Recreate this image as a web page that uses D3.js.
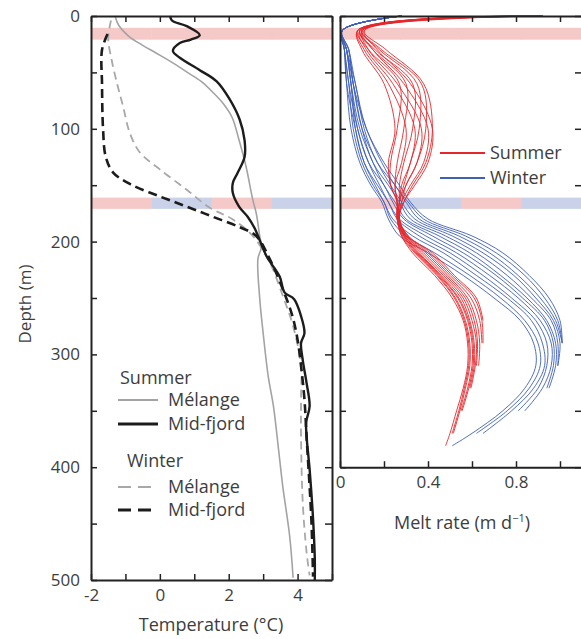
<!DOCTYPE html>
<html>
<head>
<meta charset="utf-8">
<script src="https://cdn.jsdelivr.net/npm/d3@7"></script>
<style>
body { margin: 0; background: #fff; }
text { font-family: "Open Sans", sans-serif; fill: #3d3d3d; }
.axis .domain { stroke: #222; stroke-width: 2; }
.axis line { stroke: #222; stroke-width: 1.5; }
.axis text { font-size: 17px; fill: #3d3d3d; }
</style>
</head>
<body>
<script>
// temperature profiles [temp degC, depth m]
var summerMelange = [[-1.3,0],[-1.2,8],[-0.9,18],[-0.5,26],[-0.1,33],[0.4,42],[0.8,50],[1.2,58],[1.55,68],[1.85,78],[2.1,90],[2.3,110],[2.5,133],[2.7,163],[2.8,175],[2.9,195],[2.95,205],[2.85,215],[2.9,250],[3.0,281],[3.15,320],[3.3,346],[3.45,385],[3.57,417],[3.77,461],[3.87,498]];
var summerMidfjord = [[0.3,0],[0.35,4],[0.78,9],[1.16,17],[0.9,21],[0.58,24],[0.38,31],[0.58,37],[1.16,48],[1.65,58],[2.03,74],[2.32,92],[2.46,110],[2.46,125],[2.26,139],[2.12,148],[2.12,157],[2.3,169],[2.55,178],[2.75,188],[3.1,213],[3.48,231],[3.62,245],[3.9,251],[4.1,266],[4.2,281],[4.1,290],[4.15,305],[4.26,325],[4.35,346],[4.25,360],[4.26,372],[4.35,402],[4.45,446],[4.5,481],[4.5,500]];
var winterMelange = [[-1.42,4],[-1.5,20],[-1.4,39],[-1.25,59],[-1.07,80],[-0.87,104],[-0.58,121],[0,136],[0.78,154],[1.45,170],[2.1,180],[2.7,195],[3.2,219],[3.57,248],[3.87,275],[4.1,310],[4.1,340],[4.1,372],[4.15,431],[4.26,475],[4.35,496]];
var winterMidfjord = [[-1.52,16],[-1.68,30],[-1.68,60],[-1.65,100],[-1.57,125],[-1.35,139],[-0.8,150],[0,160],[0.78,169],[1.54,178],[2.3,187],[2.8,195],[3.2,216],[3.57,242],[3.85,266],[4.0,287],[4.1,310],[4.2,340],[4.26,372],[4.4,446],[4.45,497]];

// melt rate ensembles (m/d) on shared depths
var meltDepths = [0, 13, 30, 60, 100, 130, 150, 165, 180, 195, 210, 230, 250, 270, 290, 310, 330, 350, 370, 381];
var summerMelt = [
  [0.92,0.08,0.10,0.20,0.25,0.22,0.23,0.26, .26,.28,.33,.43,.51,.56,.58,.58,.56,.53,.50,.48],
  [0.92,0.08,0.13,0.27,0.26,0.23,0.23,0.26, .26,.28,.34,.44,.52,.565,.585,.585,.565,.54,.51],
  [0.92,0.08,0.11,0.22,0.30,0.28,0.25,0.26, .26,.285,.345,.445,.525,.57,.59,.59,.57,.545,.515],
  [0.92,0.09,0.15,0.30,0.29,0.26,0.25,0.26, .26,.29,.35,.45,.535,.58,.60,.60,.58,.55],
  [0.92,0.09,0.12,0.24,0.34,0.32,0.28,0.27, .265,.29,.355,.455,.54,.585,.605,.605,.585,.555],
  [0.92,0.09,0.16,0.33,0.33,0.29,0.27,0.27, .265,.295,.36,.46,.55,.59,.61,.61,.59],
  [0.92,0.10,0.13,0.26,0.37,0.35,0.30,0.27, .265,.295,.37,.47,.56,.60,.62,.615,.595],
  [0.92,0.10,0.18,0.35,0.36,0.32,0.29,0.27, .27,.30,.38,.48,.57,.61,.625,.62],
  [0.92,0.10,0.15,0.29,0.40,0.38,0.32,0.28, .27,.30,.39,.49,.58,.62,.635,.63],
  [0.92,0.10,0.19,0.37,0.39,0.35,0.30,0.28, .27,.305,.40,.50,.595,.635,.645],
  [0.92,0.11,0.17,0.32,0.42,0.40,0.34,0.29, .27,.31,.41,.51,.61,.645,.65],
  [0.92,0.11,0.21,0.38,0.42,0.39,0.33,0.29, .27,.31,.42,.52,.62,.65]
];
var winterMelt = [
  [.28,.01,.02,.03,.05,.09,.14,.19, .22,.27,.40,.56,.70,.82,.88,.89,.84,.74,.60,.51],
  [.28,.01,.02,.04,.06,.10,.15,.20, .23,.30,.43,.59,.73,.84,.90,.91,.86,.76,.62],
  [.28,.01,.02,.03,.07,.11,.16,.20, .24,.33,.47,.62,.76,.87,.92,.93,.88,.78,.65],
  [.28,.01,.03,.05,.07,.11,.17,.22, .26,.36,.50,.65,.78,.89,.94,.94,.90,.81],
  [.28,.01,.02,.04,.08,.13,.18,.22, .27,.39,.53,.68,.81,.91,.96,.96,.92,.84],
  [.28,.01,.03,.05,.08,.13,.20,.24, .29,.42,.56,.71,.83,.93,.97,.97,.94],
  [.28,.01,.03,.05,.09,.15,.20,.25, .30,.45,.59,.73,.85,.94,.98,.98,.95],
  [.28,.01,.03,.06,.10,.15,.22,.27, .32,.48,.62,.76,.87,.96,.99,.99],
  [.28,.01,.04,.06,.10,.17,.23,.28, .34,.51,.65,.79,.89,.97,1.00,.99],
  [.28,.01,.03,.07,.11,.17,.25,.30, .36,.54,.68,.81,.91,.98,1.01],
  [.28,.01,.04,.06,.12,.19,.25,.31, .38,.57,.71,.84,.93,.99,1.01],
  [.28,.01,.04,.07,.12,.20,.27,.32, .40,.60,.74,.86,.95,1.00,1.01]
];

// shaded depth bands, and which season each quarter belongs to
var bandDepths = [[10.5, 21], [161, 171]];
var bandSeasons = [["S","S","S","S"], ["S","W","S","W"]];

var tempTicks = [-2,-1,0,1,2,3,4,5];
var tempLabels = [-2,0,2,4];
var meltTicks = [0,0.2,0.4,0.6,0.8,1.0];
var meltLabels = [0,0.4,0.8];
var depthTicks = [0,50,100,150,200,250,300,350,400,450,500];
var depthLabels = [0,100,200,300,400,500];

var w = 581, h = 639;
var svg = d3.select("body").append("svg")
  .attr("width", w)
  .attr("height", h);

var xT = d3.scaleLinear().domain([-2, 5]).range([91, 332]);
var yT = d3.scaleLinear().domain([0, 500]).range([16, 580]);
var xM = d3.scaleLinear().domain([0, 1.1]).range([340, 582]);
var yM = d3.scaleLinear().domain([0, 400]).range([16, 16 + 400 * 564 / 500]);

var bandColor = {S: "#f6c9c9", W: "#c9d2e9"};

// bands
function drawBands(xs, ys) {
  var r = xs.range(), q = (r[1] - r[0]) / 4;
  bandDepths.forEach(function(b, bi) {
    bandSeasons[bi].forEach(function(s, i) {
      svg.append("rect")
        .attr("x", r[0] + i * q)
        .attr("y", ys(b[0]))
        .attr("width", q + 0.5)
        .attr("height", ys(b[1]) - ys(b[0]))
        .attr("fill", bandColor[s]);
    });
  });
}
drawBands(xT, yT);
drawBands(xM, yM);

// temperature lines
var tLine = d3.line()
  .x(function(d) { return xT(d[0]); })
  .y(function(d) { return yT(d[1]); })
  .curve(d3.curveCatmullRom.alpha(0.5));

var tempSeries = [
  {data: summerMelange, color: "#a3a3a3", width: 1.6, dash: null},
  {data: winterMelange, color: "#a8a8a8", width: 1.8, dash: "8,5"},
  {data: winterMidfjord, color: "#1c1c1c", width: 2.6, dash: "9,5"},
  {data: summerMidfjord, color: "#1c1c1c", width: 2.4, dash: null}
];
tempSeries.forEach(function(s) {
  svg.append("path")
    .attr("d", tLine(s.data))
    .attr("fill", "none")
    .attr("stroke", s.color)
    .attr("stroke-width", s.width)
    .attr("stroke-dasharray", s.dash);
});

// melt lines
var mLine = d3.line()
  .x(function(d) { return xM(d[0]); })
  .y(function(d) { return yM(d[1]); })
  .curve(d3.curveCatmullRom.alpha(0.5));

function drawMelt(set, color) {
  svg.selectAll(null)
    .data(set)
    .enter()
    .append("path")
    .attr("d", function(vals) {
      return mLine(vals.map(function(v, i) { return [v, meltDepths[i]]; }));
    })
    .attr("fill", "none")
    .attr("stroke", color)
    .attr("stroke-width", 1)
    .attr("stroke-opacity", 0.9);
}
drawMelt(winterMelt, "#3f5fb8");
drawMelt(summerMelt, "#e5272b");

// axes / frames
function fmt(d) { return String(d); }
function drawAxes(xs, ys, xt, xl, yt, yl) {
  var xr = xs.range(), yr = ys.range();
  svg.append("g").attr("class", "axis")
    .attr("transform", "translate(0," + yr[1] + ")")
    .call(d3.axisBottom(xs).tickValues(xt).tickSize(-6).tickSizeOuter(0).tickPadding(9)
      .tickFormat(function(d) { return xl.indexOf(d) >= 0 ? fmt(d) : ""; }));
  svg.append("g").attr("class", "axis")
    .attr("transform", "translate(0," + yr[0] + ")")
    .call(d3.axisTop(xs).tickValues(xt).tickSize(-6).tickSizeOuter(0).tickFormat(""));
  svg.append("g").attr("class", "axis")
    .attr("transform", "translate(" + xr[0] + ",0)")
    .call(d3.axisLeft(ys).tickValues(yt).tickSize(-6).tickSizeOuter(0).tickPadding(11)
      .tickFormat(function(d) { return yl.indexOf(d) >= 0 ? fmt(d) : ""; }));
  svg.append("g").attr("class", "axis")
    .attr("transform", "translate(" + xr[1] + ",0)")
    .call(d3.axisRight(ys).tickValues(yt).tickSize(-7).tickSizeOuter(0).tickFormat(""));
}
drawAxes(xT, yT, tempTicks, tempLabels, depthTicks, depthLabels);
drawAxes(xM, yM, meltTicks, meltLabels, depthTicks.filter(function(d) { return d <= 400; }), []);

// axis titles
svg.append("text")
  .attr("x", 211).attr("y", 631)
  .attr("text-anchor", "middle")
  .attr("font-size", "18px")
  .text("Temperature (\u00b0C)");

svg.append("text")
  .attr("transform", "translate(31,304) rotate(-90)")
  .attr("text-anchor", "middle")
  .attr("font-size", "17px")
  .text("Depth (m)");

var mt = svg.append("text")
  .attr("x", 462).attr("y", 529)
  .attr("text-anchor", "middle")
  .attr("font-size", "18px");
mt.append("tspan").text("Melt rate (m d");
mt.append("tspan").attr("dy", -7).attr("font-size", "11px").text("\u22121");
mt.append("tspan").attr("dy", 7).text(")");

// left legend
var legTemp = [
  {head: "Summer", hx: 120, hy: 384},
  {label: "M\u00e9lange", y: 400, color: "#a3a3a3", width: 1.8, dash: null},
  {label: "Mid-fjord", y: 424, color: "#1c1c1c", width: 2.8, dash: null},
  {head: "Winter", hx: 127, hy: 467},
  {label: "M\u00e9lange", y: 487, color: "#a8a8a8", width: 2, dash: "13,7"},
  {label: "Mid-fjord", y: 510, color: "#1c1c1c", width: 2.8, dash: "13,7"}
];
legTemp.forEach(function(l) {
  if (l.head) {
    svg.append("text").attr("x", l.hx).attr("y", l.hy).attr("font-size", "18px").text(l.head);
  } else {
    svg.append("line")
      .attr("x1", 118).attr("x2", 158).attr("y1", l.y).attr("y2", l.y)
      .attr("stroke", l.color).attr("stroke-width", l.width).attr("stroke-dasharray", l.dash);
    svg.append("text").attr("x", 168).attr("y", l.y + 6).attr("font-size", "18px").text(l.label);
  }
});

// right legend
var legMelt = [["Summer", "#e5272b", 153], ["Winter", "#3f5fb8", 178]];
legMelt.forEach(function(l) {
  svg.append("line")
    .attr("x1", 440).attr("x2", 485).attr("y1", l[2]).attr("y2", l[2])
    .attr("stroke", l[1]).attr("stroke-width", 2);
  svg.append("text").attr("x", 490).attr("y", l[2] + 6).attr("font-size", "18px").text(l[0]);
});
</script>
</body>
</html>
